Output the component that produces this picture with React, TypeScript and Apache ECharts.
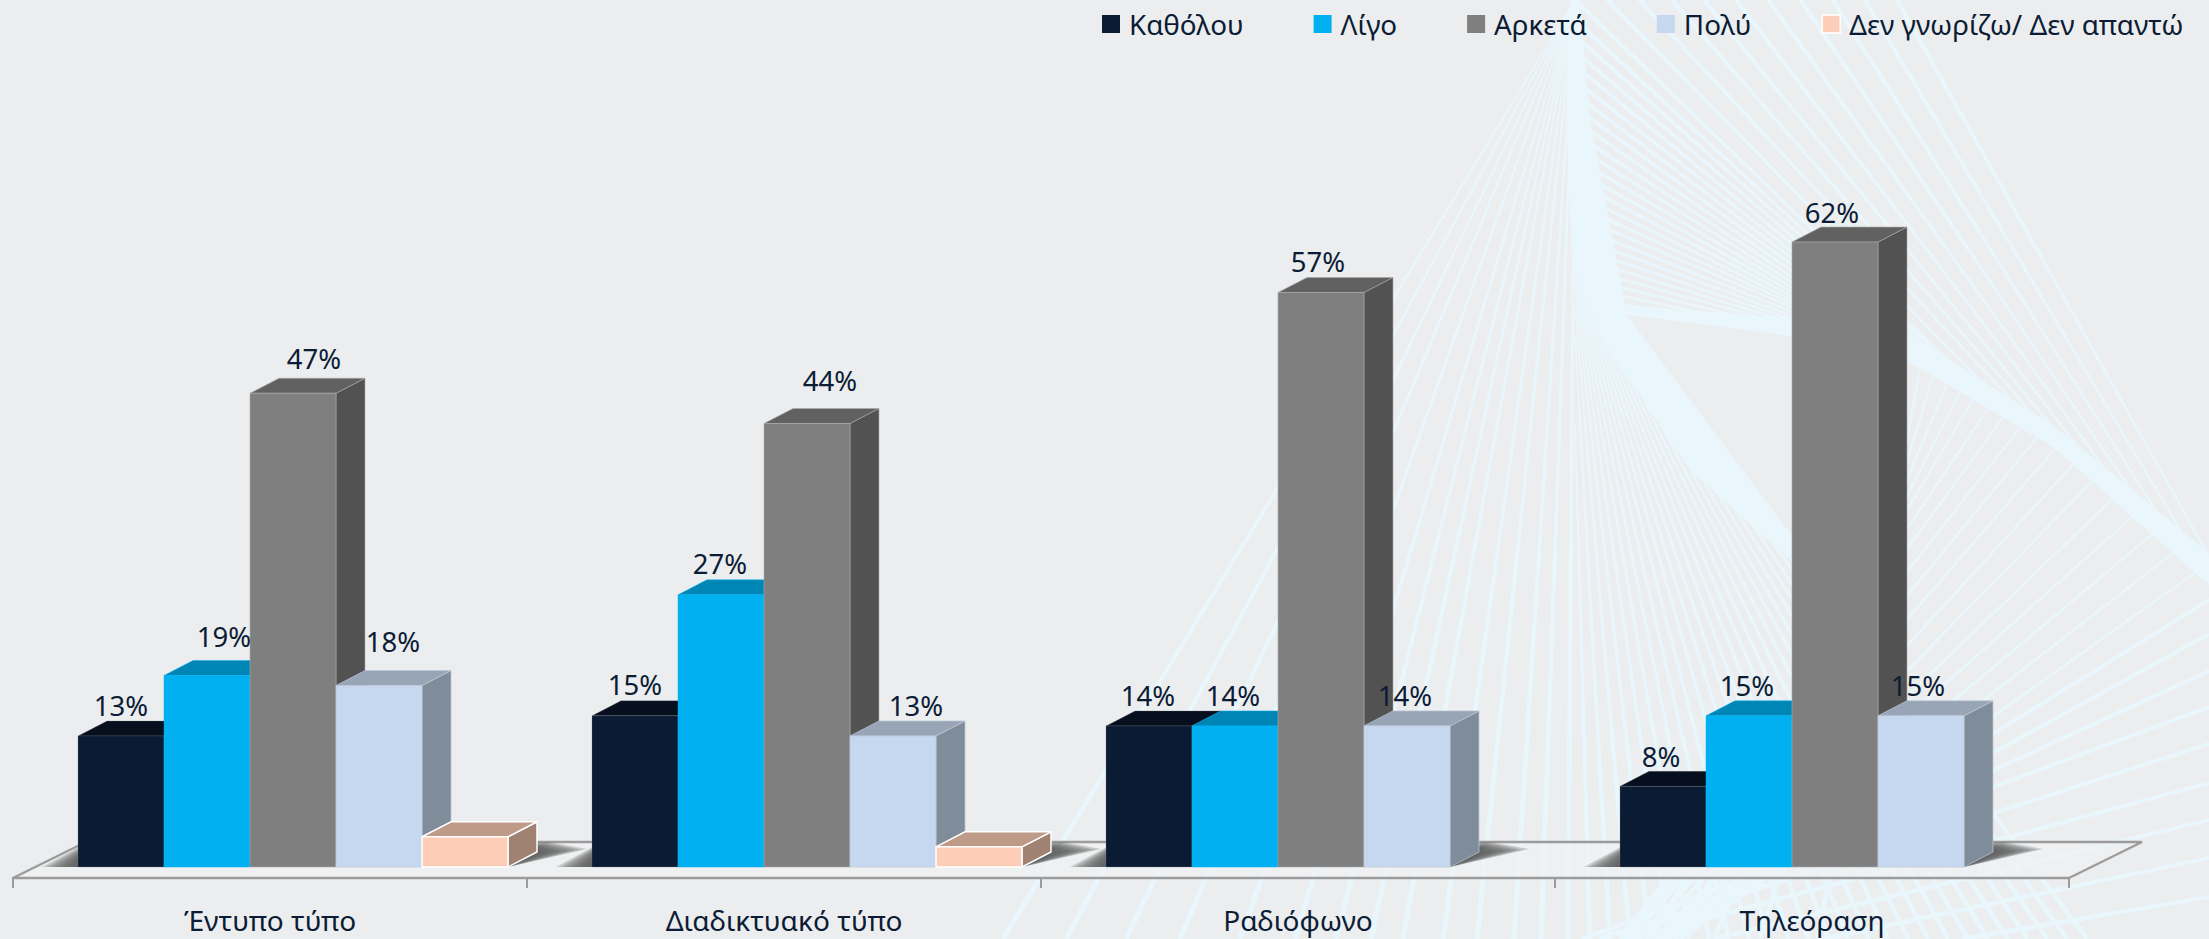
import React, { useEffect, useRef } from "react";
import * as echarts from "echarts";

const categories = ["Έντυπο τύπο", "Διαδικτυακό τύπο", "Ραδιόφωνο", "Τηλεόραση"];
const seriesNames = ["Καθόλου", "Λίγο", "Αρκετά", "Πολύ", "Δεν γνωρίζω/ Δεν απαντώ"];
const katholou = [13, 15, 14, 8];
const ligo = [19, 27, 14, 15];
const arketa = [47, 44, 57, 62];
const poly = [18, 13, 14, 15];
const dk = [3, 2, null, null];
const seriesValues = [katholou, ligo, arketa, poly, dk];

const INK = "#0B1C34";
const FONT = "'Noto Sans', sans-serif";
const BG = "#ECEDEF";
const PALE = "#E9F6FC";
const W = 2209;
const H = 939;

const barStyles = [
  { front: "#0B1B33", top: "#070F1E", side: "#070F1E", stroke: "rgba(120,130,140,0.35)", lw: 0.8 },
  { front: "#00B0F0", top: "#0086B6", side: "#0086B6", stroke: "rgba(0,176,240,0.6)", lw: 0.8 },
  { front: "#7F7F7F", top: "#616161", side: "#525252", stroke: "rgba(170,170,170,0.6)", lw: 1 },
  { front: "#C6D8F0", top: "#98A5B7", side: "#7F8C9A", stroke: "rgba(190,200,215,0.7)", lw: 1 },
  { front: "#FDCDB8", top: "#BE9A88", side: "#A08272", stroke: "#FFFFFF", lw: 1.5 },
];

// label offsets from the front top centre: [series][category] = [dx, dy]
const labelOffsets = [
  [[0, -30], [0, -31], [-1, -30], [-2, -30]],
  [[17, -39], [-1, -31], [-2, -30], [-2, -30]],
  [[21, -35], [23, -43], [-3, -31], [-3, -30]],
  [[14, -44], [23, -30], [-2, -30], [-3, -30]],
];

const BAR_W_FRAC = 86 / 514;
const SHIFT_FRAC = 23 / 514;
const DX = 29;
const DY = 15;
const SHADOW_LAYERS = 8;

function barX(api: any, cat: number, s: number) {
  const c = api.coord([cat, 0]);
  const band = api.size([1, 0])[0];
  const w = band * BAR_W_FRAC;
  return { left: c[0] + band * SHIFT_FRAC + (s - 2.5) * w, w, base: c[1] };
}

function makeRender(s: number) {
  return (_p: any, api: any) => {
    const cat = api.value(0);
    const v = api.value(1);
    if (v == null || isNaN(v)) return undefined;
    const { left, w, base } = barX(api, cat, s);
    const top = api.coord([cat, v])[1];
    const st = barStyles[s];
    const R = left + w;
    const line = { stroke: st.stroke, lineWidth: st.lw };
    const children: any[] = [
      { type: "polygon", shape: { points: [[R, top], [R + DX, top - DY], [R + DX, base - DY], [R, base]] }, style: { fill: st.side, ...line } },
      { type: "polygon", shape: { points: [[left, top], [left + DX, top - DY], [R + DX, top - DY], [R, top]] }, style: { fill: st.top, ...line } },
      { type: "rect", shape: { x: left, y: top, width: w, height: base - top }, style: { fill: st.front, ...line } },
    ];
    if (labelOffsets[s]) {
      const [dx, dy] = labelOffsets[s][cat];
      children.push({
        type: "text",
        z2: 100,
        style: {
          x: left + w / 2 + dx,
          y: top + dy,
          text: v + "%",
          fill: INK,
          fontFamily: FONT,
          fontSize: 27.5,
          align: "center",
          verticalAlign: "middle",
        },
      });
    }
    return { type: "group", children };
  };
}

function renderShadow(_p: any, api: any) {
  const cat = api.value(0);
  const last = dk[cat] == null ? 3 : 4;
  const a = barX(api, cat, 0);
  const b = barX(api, cat, last);
  const L = a.left;
  const R = b.left + b.w;
  const y = a.base;
  const children: any[] = [];
  for (let k = 0; k < SHADOW_LAYERS; k++) {
    const e = 1 - k / SHADOW_LAYERS;
    children.push({
      type: "polygon",
      shape: {
        points: [
          [L - 36 * e, y],
          [R, y],
          [R + DX + 50 * e, y - 18 + 4 * (1 - e)],
          [R + DX + 12 * e, y - 25 + 7 * (1 - e)],
          [L + 10, y - 25 + 7 * (1 - e)],
        ],
      },
      style: { fill: "rgba(90,90,90,0.26)" },
    });
  }
  return { type: "group", children };
}

// ---- decorative string-art backdrop ----
const lowerBand = [[1627, 315], [1790, 335], [1907, 361], [2053, 447], [2209, 585], [2260, 630]];
const upperBand = [[1627, 305], [1790, 318], [1907, 333], [2053, 425], [2209, 553], [2260, 600]];
const leftFanBottoms = [1003, 1066, 1126, 1180, 1240, 1295, 1336, 1371, 1403, 1443, 1477, 1514, 1541, 1568];
const bandEndXs = [1920, 1933, 1947, 1960, 1973, 1988, 2003, 2020, 2037, 2055, 2073, 2092, 2112, 2132, 2152, 2173, 2195];
const bandStartXs = [1818, 1760, 1714, 1680, 1650, 1630, 1622, 1620, 1625, 1630, 1638, 1645, 1655, 1660, 1668, 1675, 1680];
const edgeYs = [600, 634, 671, 707, 744, 783, 820, 858, 897];
const edgeSlopes = [0.62, 0.55, 0.46, 0.37, 0.32, 0.27, 0.24, 0.21, 0.17];

function bandY(x: number) {
  for (let i = 0; i < lowerBand.length - 1; i++) {
    const [x0, y0] = lowerBand[i];
    const [x1, y1] = lowerBand[i + 1];
    if (x <= x1) return y0 + ((x - x0) / (x1 - x0)) * (y1 - y0);
  }
  return 630;
}

function backdrop() {
  const els: any[] = [];
  const poly = (points: number[][]) =>
    els.push({ type: "polygon", silent: true, z: 0, shape: { points }, style: { fill: PALE } });
  // a tapered ray, w0 wide at its first end and w1 at its second
  const ray = (x1: number, y1: number, x2: number, y2: number, w0: number, w1: number) => {
    const d = Math.hypot(x2 - x1, y2 - y1) || 1;
    const nx = -(y2 - y1) / d;
    const ny = (x2 - x1) / d;
    poly([
      [x1 + (nx * w0) / 2, y1 + (ny * w0) / 2],
      [x2 + (nx * w1) / 2, y2 + (ny * w1) / 2],
      [x2 - (nx * w1) / 2, y2 - (ny * w1) / 2],
      [x1 - (nx * w0) / 2, y1 - (ny * w0) / 2],
    ]);
  };

  els.push({ type: "rect", silent: true, z: 0, shape: { x: 0, y: 0, width: W, height: H }, style: { fill: BG } });

  leftFanBottoms.forEach((x) => ray(1575, 0, x, H, 1.5, 5.5));

  for (let k = 1; k <= 26; k++) {
    const x700 = 1570 + 13 * k;
    const s = 0.75 * (k / 26);
    const y0 = Math.max(0, 700 - (x700 - 1575) / s);
    ray(x700 - (700 - y0) * s, y0, x700 + 239 * s, H, 1.5, 5);
  }

  for (let i = 0; i <= 10; i++) {
    const u = i / 10;
    const ex = 2235 - 235 * u;
    ray(1897 - 322 * u, 0, ex, bandY(ex) - 5, 4.5, 2);
  }
  for (let j = 0; j <= 24; j++) {
    const u = j / 24;
    const sx = 1575 + 47 * u * u;
    const sy = 20 + 292 * (1.3 * u - 0.3 * u * u);
    const ex = 2000 - 150 * u;
    ray(sx, sy, ex, bandY(ex) - 5, 4.5 - 2 * u, 2);
  }

  bandEndXs.forEach((x, i) => ray(x, bandY(x), bandStartXs[i], H, 2, 5));
  edgeYs.forEach((y, i) => ray(W, y, W - (H - y) / edgeSlopes[i], H, 4, 5));

  poly([...upperBand, ...[...lowerBand].reverse()]);
  poly([[1570, 0], [1580, 0], [1590, 120], [1627, 315], [1790, 533], [1835, 600], [1690, 470], [1603, 340], [1572, 260], [1566, 120]]);

  // floor of the 3D plot
  els.push({ type: "polygon", silent: true, z: 0, shape: { points: [[13, 878], [2069, 878], [2142, 842], [86, 842]] }, style: { fill: "rgba(240,241,242,0.65)" } });
  els.push({ type: "polyline", silent: true, z: 0, shape: { points: [[13, 878], [86, 842], [2142, 842], [2069, 878]] }, style: { stroke: "#9C9C9C", lineWidth: 2.4, fill: "none" } });
  return els;
}

export default function App() {
  const ref = useRef<HTMLDivElement>(null);
  useEffect(() => {
    document.body.style.margin = "0";
    const chart = echarts.init(ref.current!, undefined, { renderer: "svg" });
    const barSeries = seriesNames.map((name, s) => ({
      name,
      type: "custom",
      z: 3,
      coordinateSystem: "cartesian2d",
      itemStyle: { color: barStyles[s].front },
      encode: { x: 0, y: 1 },
      data: seriesValues[s].map((v, c) => [c, v]),
      renderItem: makeRender(s),
    }));
    chart.setOption({
      animation: false,
      backgroundColor: BG,
      graphic: { elements: backdrop() },
      grid: { left: 13, width: 2056, top: 60.6, height: 806.4, containLabel: false },
      legend: {
        left: 1102,
        top: 10,
        padding: 0,
        itemWidth: 18,
        itemHeight: 18,
        itemGap: 70,
        icon: "rect",
        selectedMode: false,
        textStyle: { color: INK, fontFamily: FONT, fontSize: 27.8, padding: [0, 0, 0, 4] },
        data: seriesNames.map((name, s) => ({
          name,
          itemStyle: s === 4 ? { color: barStyles[s].front, borderColor: "#FFFFFF", borderWidth: 1.5 } : { color: barStyles[s].front },
        })),
      },
      xAxis: {
        type: "category",
        data: categories,
        offset: 11,
        z: 2,
        axisLine: { onZero: false, lineStyle: { color: "#9C9C9C", width: 2.4 } },
        axisTick: { show: true, alignWithLabel: false, length: 10, lineStyle: { color: "#9C9C9C", width: 2 } },
        axisLabel: { color: INK, fontFamily: FONT, fontSize: 28, margin: 28 },
      },
      yAxis: { type: "value", min: 0, max: 80, show: false, splitLine: { show: false } },
      series: [
        {
          name: "shadow",
          type: "custom",
          z: 2,
          silent: true,
          encode: { x: 0, y: 1 },
          data: categories.map((_, c) => [c, 0]),
          renderItem: renderShadow,
        },
        ...barSeries,
      ],
    });
    return () => chart.dispose();
  }, []);
  return <div ref={ref} style={{ width: W, height: H }} />;
}
